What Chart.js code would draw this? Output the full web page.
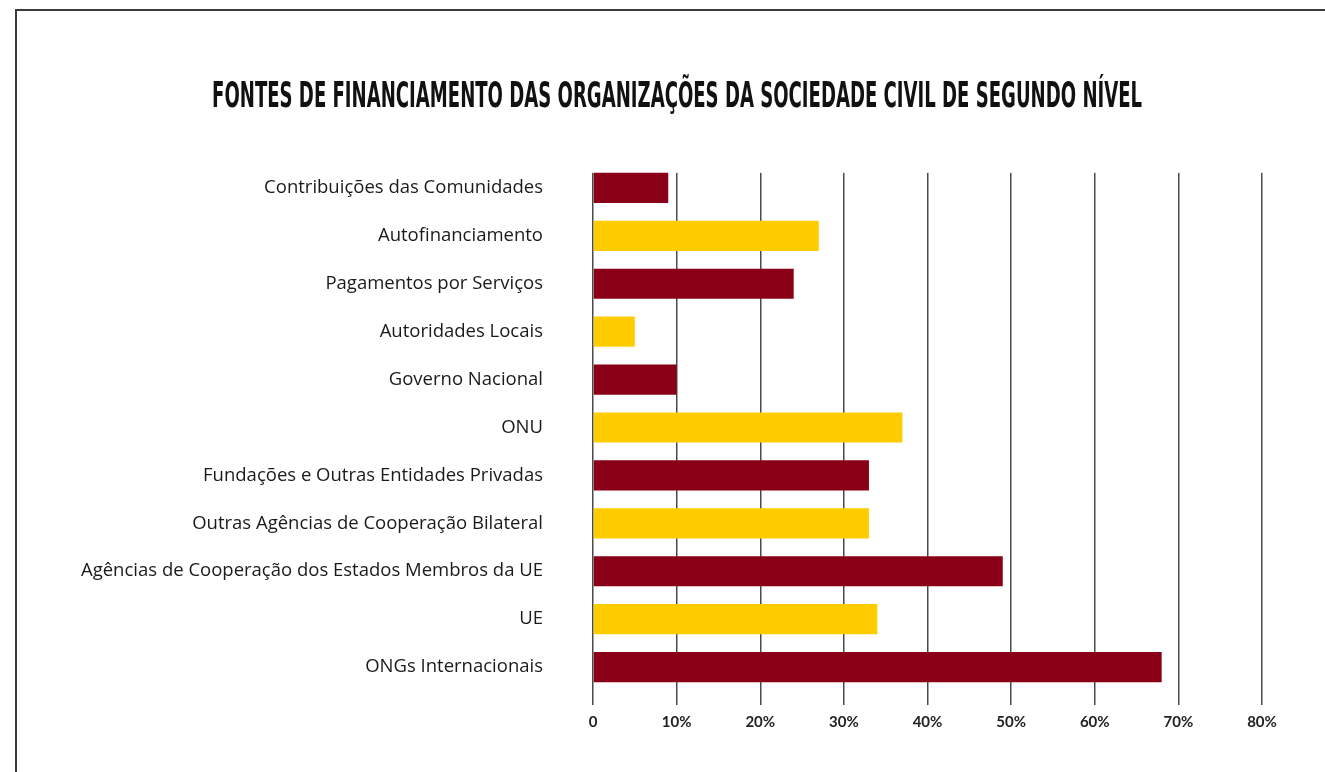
<!DOCTYPE html>
<html>
<head>
<meta charset="utf-8">
<script src="https://cdn.jsdelivr.net/npm/chart.js@4"></script>
<style>
    html, body { margin: 0; padding: 0; background: #fff; overflow: hidden; }
    .frame {
        position: absolute;
        left: 15px;
        top: 9px;
        width: 1400px;
        height: 900px;
        border-left: 2px solid #3a3a3a;
        border-top: 2px solid #3a3a3a;
    }
    #chart-wrap { position: absolute; left: 0; top: 0; width: 1325px; height: 772px; }
    .chart-title {
        position: absolute;
        left: 677px;
        top: 95px;
        margin: 0;
        white-space: nowrap;
        font-family: 'DejaVu Sans Condensed', 'DejaVu Sans', sans-serif;
        font-weight: bold;
        font-size: 35px;
        line-height: 1;
        color: #111;
        transform-origin: center center;
    }
</style>
</head>
<body>
<div class="frame"></div>
<div id="chart-wrap"><canvas id="fundingChart"></canvas></div>
<h1 class="chart-title" id="chart-title"></h1>
<script>
// Categories, top to bottom
const categories = [
    'Contribuições das Comunidades',
    'Autofinanciamento',
    'Pagamentos por Serviços',
    'Autoridades Locais',
    'Governo Nacional',
    'ONU',
    'Fundações e Outras Entidades Privadas',
    'Outras Agências de Cooperação Bilateral',
    'Agências de Cooperação dos Estados Membros da UE',
    'UE',
    'ONGs Internacionais'
];

// Share of organisations (%)
const shares = [9, 27, 24, 5, 10, 37, 33, 33, 49, 34, 68];

const xTicks = [0, 10, 20, 30, 40, 50, 60, 70, 80];

const chartTitle = 'FONTES DE FINANCIAMENTO DAS ORGANIZAÇÕES DA SOCIEDADE CIVIL DE SEGUNDO NÍVEL';

const RED = '#8a0016';
const YELLOW = '#ffcc00';

document.addEventListener('DOMContentLoaded', function() {
    setTitle();
    drawChart();
});

function setTitle() {
    // Condensed display font is not available, so squeeze the text to the original width
    const el = document.getElementById('chart-title');
    el.textContent = chartTitle;
    const w = el.offsetWidth;
    const h = el.offsetHeight;
    const sx = 930 / w;
    el.style.transform = 'translate(' + (-w / 2) + 'px,' + (-h / 2) + 'px) scaleX(' + sx + ')';
}

// Gridlines start at the top of the first bar, not at the top of the plot area
const trimGridTop = {
    id: 'trimGridTop',
    beforeDatasetsDraw(chart) {
        const area = chart.chartArea;
        const meta = chart.getDatasetMeta(0);
        const firstBar = meta.data[0];
        if (!firstBar) return;
        const barTop = firstBar.y - firstBar.height / 2;
        const c = chart.ctx;
        c.save();
        c.fillStyle = '#fff';
        c.fillRect(area.left - 2, area.top - 1, area.right - area.left + 4, barTop - area.top + 1);
        c.restore();
    }
};

function drawChart() {
    const ctx = document.getElementById('fundingChart');
    const barColors = shares.map((v, i) => i % 2 === 0 ? RED : YELLOW);

    new Chart(ctx, {
        type: 'bar',
        data: {
            labels: categories,
            datasets: [{
                data: shares,
                backgroundColor: barColors,
                borderWidth: 0,
                barPercentage: 0.63,
                categoryPercentage: 1.0
            }]
        },
        plugins: [trimGridTop],
        options: {
            indexAxis: 'y',
            responsive: true,
            maintainAspectRatio: false,
            animation: false,
            layout: {
                padding: { left: 0, right: 63, top: 164, bottom: 0 }
            },
            plugins: {
                legend: { display: false },
                tooltip: { enabled: false },
                title: { display: false }
            },
            scales: {
                x: {
                    min: 0,
                    max: 80,
                    afterBuildTicks: function(scale) {
                        scale.ticks = xTicks.map(v => ({ value: v }));
                    },
                    afterFit: function(scale) {
                        scale.height = 81;
                    },
                    border: { display: false },
                    grid: {
                        color: '#4a4a4a',
                        lineWidth: 1.5,
                        drawTicks: true,
                        tickLength: 14,
                        tickColor: '#4a4a4a'
                    },
                    ticks: {
                        padding: 8,
                        color: '#222',
                        font: { family: 'Lato', size: 15, weight: 'bold' },
                        callback: function(value) {
                            return value === 0 ? '0' : value + '%';
                        }
                    }
                },
                y: {
                    afterFit: function(scale) {
                        scale.width = 593;
                    },
                    border: { display: false },
                    grid: { display: false, drawTicks: false },
                    ticks: {
                        padding: 50,
                        color: '#1a1a1a',
                        font: { family: 'Open Sans', size: 18.5 }
                    }
                }
            }
        }
    });
}
</script>
</body>
</html>
